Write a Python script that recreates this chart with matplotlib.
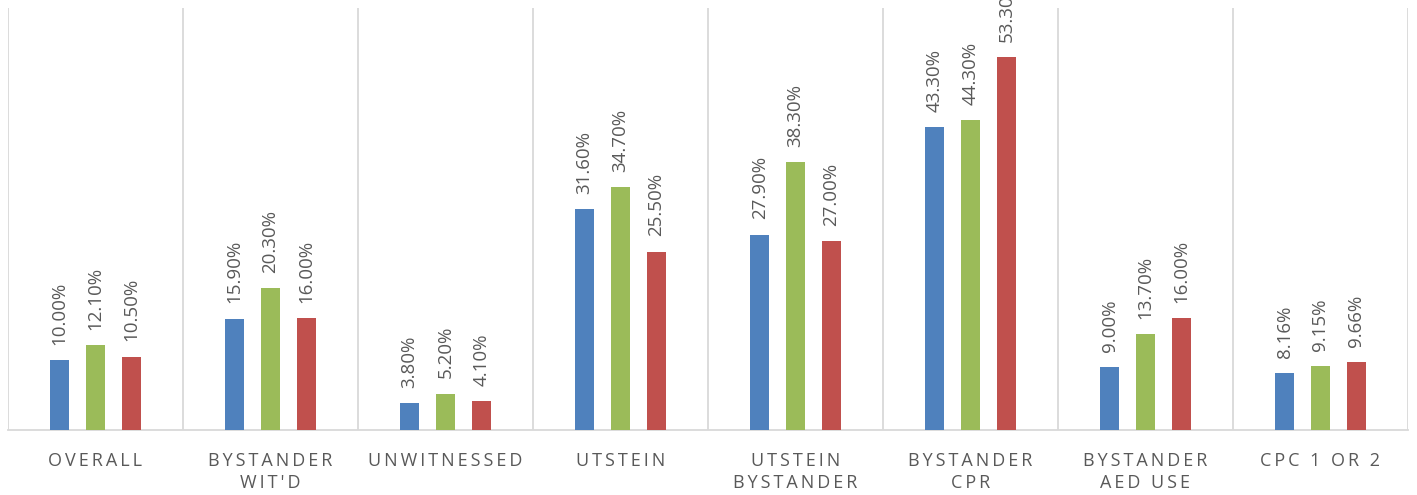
import matplotlib.pyplot as plt
import numpy as np

plt.rcParams['font.family'] = ['Open Sans', 'DejaVu Sans']

categories = ["OVERALL", "BYSTANDER\nWIT'D", "UNWITNESSED", "UTSTEIN",
              "UTSTEIN\nBYSTANDER", "BYSTANDER\nCPR", "BYSTANDER\nAED USE", "CPC 1 OR 2"]
series_a = [10.00, 15.90, 3.80, 31.60, 27.90, 43.30, 9.00, 8.16]
series_b = [12.10, 20.30, 5.20, 34.70, 38.30, 44.30, 13.70, 9.15]
series_c = [10.50, 16.00, 4.10, 25.50, 27.00, 53.30, 16.00, 9.66]
colors = ["#4F81BD", "#9BBB59", "#C0504D"]
text_gray = "#595959"
grid_gray = "#D9D9D9"


def spaced(label):
    # widen the letter spacing of the category names
    lines = []
    for line in label.split("\n"):
        words = ["\u2009".join(w) for w in line.split(" ")]
        lines.append("\u2009 \u2009".join(words))
    return "\n".join(lines)


fig = plt.figure(figsize=(14.17, 4.95), dpi=100)
ax = fig.add_axes([8 / 1417, 65 / 495, 1400 / 1417, 422 / 495])

x = np.arange(len(categories))
width = 0.11
offset = 0.205
for i, vals in enumerate([series_a, series_b, series_c]):
    pos = x + (i - 1) * offset
    ax.bar(pos, vals, width=width, color=colors[i], zorder=3)
    for px, v in zip(pos, vals):
        ax.annotate(f"{v:.2f}%", (px, v), xytext=(0, 11), textcoords="offset points",
                    rotation=90, ha="center", va="bottom", fontsize=13.5,
                    color=text_gray, annotation_clip=False)

ax.set_xlim(-0.5, len(categories) - 0.5)
ax.set_ylim(0, 60.3)

# separators between the categories
for b in np.arange(-0.5, len(categories), 1.0):
    ax.axvline(b, color=grid_gray, lw=1.3, zorder=1)

for s in ["top", "right", "left"]:
    ax.spines[s].set_visible(False)
ax.spines["bottom"].set_color(grid_gray)
ax.spines["bottom"].set_linewidth(1.3)

ax.set_yticks([])
ax.set_xticks(x)
ax.set_xticklabels([spaced(c) for c in categories], fontsize=13, color=text_gray,
                   linespacing=1.3)
ax.tick_params(axis="x", length=0, pad=16)

fig.savefig("out.png", dpi=100)
